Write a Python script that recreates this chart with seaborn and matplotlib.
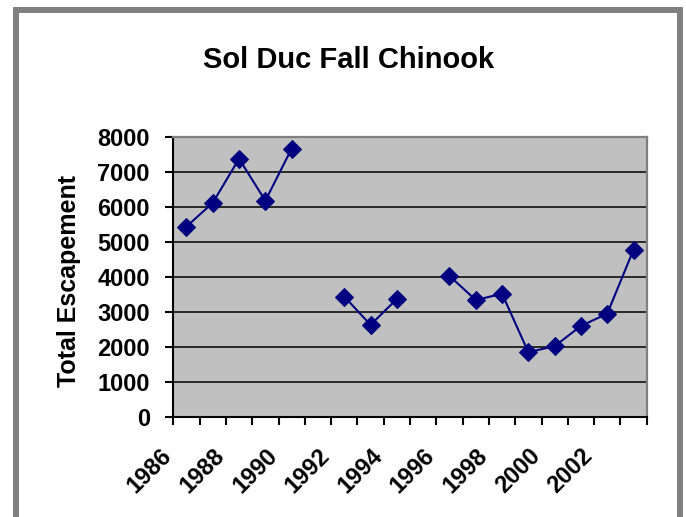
import numpy as np
import pandas as pd
import seaborn as sns
import matplotlib.pyplot as plt
from matplotlib.patches import Rectangle
from matplotlib.transforms import ScaledTranslation

years = list(range(1986, 2004))
escapement = [5430, 6110, 7370, 6170, 7660, np.nan, 3430, 2620, 3360, np.nan,
              4020, 3330, 3510, 1840, 2010, 2590, 2940, 4770]
tick_years = list(range(1986, 2003, 2))
y_ticks = list(range(0, 8001, 1000))

df = pd.DataFrame({"year": years, "escapement": escapement})
# break the line where a year is missing
df["segment"] = df["escapement"].isna().cumsum()
df = df.dropna()

sns.set_style("white")
plt.rcParams["font.family"] = ["Liberation Sans", "DejaVu Sans"]
plt.rcParams["font.weight"] = "bold"
plt.rcParams["text.color"] = "black"
plt.rcParams["axes.labelcolor"] = "black"
plt.rcParams["xtick.color"] = "black"
plt.rcParams["ytick.color"] = "black"

fig = plt.figure(figsize=(6.86, 5.17), dpi=100)
ax = fig.add_axes([173.3 / 686, 1 - 416.5 / 517, 473.4 / 686, 279.8 / 517])
ax.set_facecolor("#C0C0C0")

sns.lineplot(data=df, x="year", y="escapement", units="segment", estimator=None,
             color="#000080", marker="D", markersize=9, linewidth=1.5,
             markeredgecolor="#000080", ax=ax, zorder=3)

ax.set_xlim(years[0] - 0.5, years[-1] + 0.5)
ax.set_ylim(0, 8000)
ax.set_yticks(y_ticks)
ax.set_yticklabels([str(v) for v in y_ticks], fontsize=17, fontweight="bold")
ax.yaxis.grid(True, color="black", linewidth=1.1)
ax.set_axisbelow(True)

ax.set_xticks(tick_years)
ax.set_xticklabels([str(y) for y in tick_years], fontsize=17, fontweight="bold",
                   rotation=45, ha="right", va="center", rotation_mode="anchor")
ax.set_xticks(np.arange(years[0] - 0.5, years[-1] + 1), minor=True)
ax.tick_params(axis="x", which="major", length=0, pad=25.5)
ax.tick_params(axis="x", which="minor", length=6, width=1.5, color="black", direction="out", bottom=True)
ax.tick_params(axis="y", length=6, width=1.5, color="black", direction="out", left=True, pad=10.8)
shift = ScaledTranslation(-18 / 100, 0, fig.dpi_scale_trans)
for lbl in ax.get_xticklabels():
    lbl.set_transform(lbl.get_transform() + shift)

for side in ["left", "bottom"]:
    ax.spines[side].set_color("black")
    ax.spines[side].set_linewidth(1.5)
for side in ["top", "right"]:
    ax.spines[side].set_color("#808080")
    ax.spines[side].set_linewidth(1.6)

ax.set_xlabel("")
ax.set_ylabel("Total Escapement", fontsize=18, fontweight="bold", va="center", color="black")
ax.yaxis.set_label_coords(-0.2203, 0.4825)

fig.text(348.5 / 686, 1 - 60 / 517, "Sol Duc Fall Chinook", fontsize=21,
         fontweight="bold", ha="center", va="center", color="black")

fig.patches.append(Rectangle((15.8 / 686, -0.1), (680.2 - 15.8) / 686, 1.1 - 9.7 / 517,
                             transform=fig.transFigure, fill=False,
                             edgecolor="#808080", linewidth=4.3))

fig.savefig("out.png", dpi=100)
